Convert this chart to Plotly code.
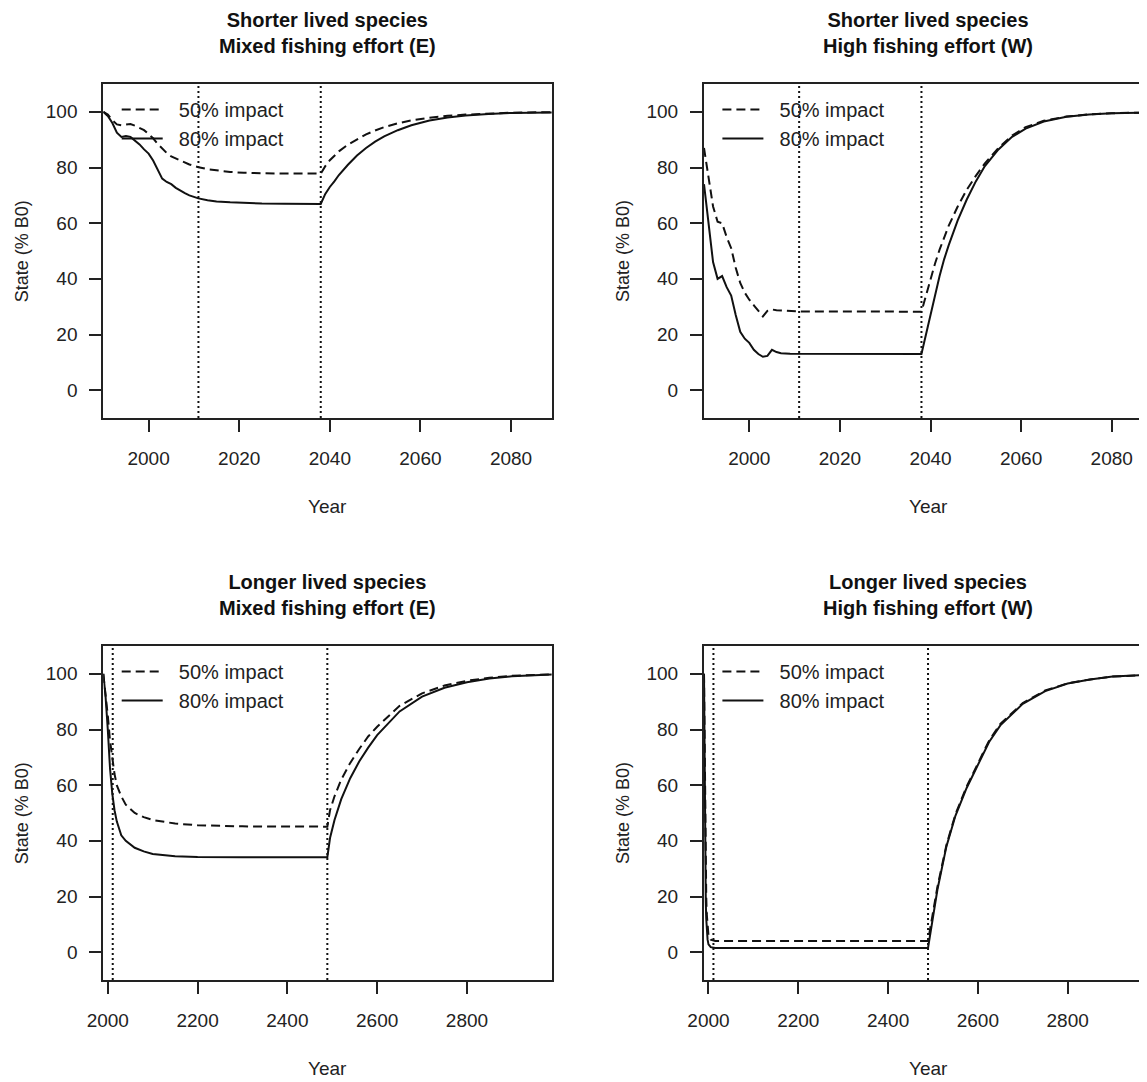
import plotly.graph_objects as go

# The page body adds an 8 px margin, so the figure is drawn 8 px smaller on each side
# and all reference positions are shifted by that margin.
OFF = 8
W, H = 1147 - OFF, 1082 - OFF

# ---------------- data ----------------
# Top-left: Shorter lived species, Mixed fishing effort (E)
tl50_year = [1990, 1991, 1992, 1993, 1994, 1995, 1996, 1997, 1998, 1999, 2000, 2001, 2002, 2003, 2004,
             2005, 2006, 2007, 2008, 2009, 2010, 2011, 2013, 2015, 2018, 2021, 2025, 2030, 2038,
             2039, 2040, 2041, 2042, 2044, 2046, 2048, 2050, 2052, 2055, 2058, 2062, 2066, 2070,
             2075, 2080, 2089]
tl50_val = [100, 99, 97, 95.5, 95.2, 95.5, 95.6, 95, 94.2, 93.4, 92, 90.5, 88.5, 86.8, 85.2,
            84, 83.2, 82.4, 81.7, 81.1, 80.6, 80.1, 79.4, 78.9, 78.4, 78.1, 77.9, 77.8, 77.8,
            80.5, 82.6, 84.3, 85.8, 88.2, 90.2, 91.9, 93.3, 94.5, 95.9, 96.9, 97.9, 98.6, 99,
            99.4, 99.7, 99.9]
tl80_year = [1990, 1991, 1992, 1993, 1994, 1995, 1996, 1997, 1998, 1999, 2000, 2001, 2002, 2003, 2004,
             2005, 2006, 2007, 2008, 2009, 2010, 2011, 2013, 2015, 2018, 2021, 2025, 2030, 2038,
             2039, 2040, 2041, 2042, 2044, 2046, 2048, 2050, 2052, 2055, 2058, 2062, 2066, 2070,
             2075, 2080, 2089]
tl80_val = [100, 98.5, 96, 92.5, 91, 91.3, 91, 89.8, 88.3, 86.5, 85, 82.5, 79, 76, 74.8,
            74, 72.7, 71.6, 70.8, 70, 69.4, 68.9, 68.2, 67.8, 67.5, 67.3, 67.1, 67, 66.9,
            70.5, 73, 75, 77.3, 81, 84.3, 87, 89.3, 91.2, 93.4, 95.2, 96.9, 98, 98.7,
            99.2, 99.6, 99.8]

# Top-right: Shorter lived species, High fishing effort (W)
tr50_year = [1990, 1991, 1992, 1993, 1994, 1995, 1996, 1997, 1998, 1999, 2000, 2001, 2002, 2003, 2004,
             2005, 2006, 2008, 2011, 2038, 2039, 2040, 2041, 2042, 2043, 2044, 2046, 2048, 2050,
             2052, 2055, 2058, 2061, 2065, 2070, 2075, 2080, 2089]
tr50_val = [87, 77, 66, 60.5, 60, 55, 51, 44, 38.5, 35, 32.5, 30.5, 28.5, 26.5, 28.5,
            29, 28.7, 28.5, 28.3, 28.2, 34, 40, 45.5, 50.5, 55, 59, 66, 72, 77,
            81.5, 87, 91.5, 94.5, 96.8, 98.3, 99.1, 99.5, 99.8]
tr80_year = [1990, 1991, 1992, 1993, 1994, 1995, 1996, 1997, 1998, 1999, 2000, 2001, 2002, 2003, 2004,
             2005, 2006, 2007, 2009, 2038, 2039, 2040, 2041, 2042, 2043, 2044, 2046, 2048, 2050,
             2052, 2055, 2058, 2061, 2065, 2070, 2075, 2080, 2089]
tr80_val = [74, 60, 46, 40, 41, 37, 34, 27, 21, 18.5, 17, 14.5, 13, 12, 12.3,
            14.5, 13.7, 13.3, 13.1, 13, 20, 28, 35, 41, 47, 52, 61, 68.5, 75,
            80.5, 86.5, 91, 94, 96.5, 98.2, 99, 99.5, 99.8]

# Bottom-left: Longer lived species, Mixed fishing effort (E)
bl50_year = [1990, 1995, 2000, 2005, 2010, 2015, 2020, 2030, 2040, 2060, 2080, 2100, 2150, 2200, 2300,
             2489, 2495, 2505, 2520, 2540, 2560, 2580, 2600, 2650, 2700, 2750, 2800, 2850, 2900, 2989]
bl50_val = [100, 93, 85, 76, 69, 64, 60, 56, 53, 50, 48.5, 47.5, 46.2, 45.6, 45.2,
            45.1, 51, 56, 62, 68, 73, 77.5, 81, 88.5, 93, 95.8, 97.5, 98.6, 99.3, 99.8]
bl80_year = [1990, 1995, 2000, 2005, 2010, 2015, 2020, 2030, 2040, 2060, 2080, 2100, 2150, 2200, 2300,
             2489, 2495, 2505, 2520, 2540, 2560, 2580, 2600, 2650, 2700, 2750, 2800, 2850, 2900, 2989]
bl80_val = [100, 92, 80, 66, 57, 51, 47, 42, 40, 37.5, 36.2, 35.3, 34.5, 34.2, 34.1,
            34.1, 41, 47.5, 55, 62.5, 68.5, 73.5, 78, 86.5, 91.8, 95, 97, 98.3, 99.1, 99.8]

# Bottom-right: Longer lived species, High fishing effort (W)
br50_year = [1990, 1991, 1992, 1993, 1994, 1995, 1996, 1998, 2000, 2005, 2015, 2489, 2500, 2510, 2530,
             2550, 2575, 2600, 2625, 2650, 2700, 2750, 2800, 2850, 2900, 2989]
br50_val = [100, 78, 56, 40, 28, 20, 14, 8, 6, 4.5, 4, 4, 14, 23.5, 38.5,
            49.5, 59.5, 68, 76, 82, 89.5, 94, 96.6, 98, 99, 99.7]
br80_year = [1990, 1991, 1992, 1993, 1994, 1995, 1996, 1998, 2000, 2005, 2015, 2489, 2500, 2510, 2530,
             2550, 2575, 2600, 2625, 2650, 2700, 2750, 2800, 2850, 2900, 2989]
br80_val = [100, 70, 45, 28, 18, 12, 8, 4.5, 2.8, 1.8, 1.5, 1.5, 12.5, 22.5, 38,
            49, 59, 67.5, 75.5, 81.5, 89.2, 93.8, 96.5, 98, 99, 99.7]

vlines_short = [2011, 2038]
vlines_long = [2011, 2489]

titles = ["Shorter lived species<br>Mixed fishing effort (E)",
          "Shorter lived species<br>High fishing effort (W)",
          "Longer lived species<br>Mixed fishing effort (E)",
          "Longer lived species<br>High fishing effort (W)"]
series_names = ["50% impact", "80% impact"]
xticks_short = [2000, 2020, 2040, 2060, 2080]
xticks_long = [2000, 2200, 2400, 2600, 2800]
yticks = [0, 20, 40, 60, 80, 100]

# ---------------- layout geometry (reference pixels, shifted by OFF) ----------------
FONT = "Liberation Sans, Arial, Helvetica, sans-serif"
BOXW = 448.5
left_box = (103.3 - OFF, 103.3 - OFF + BOXW)
right_box = (704.0 - OFF, float(W))        # right column is cut by the image edge
top_box = (84.0 - OFF, 418.0 - OFF)
bot_box = (646.0 - OFF, 980.0 - OFF)
px_per_year_short = BOXW / 99.0
px_per_year_long = BOXW / 999.0

def xd(a, b):
    return [a / W, min(b / W, 1.0)]

def yd(a, b):
    return [1 - b / H, 1 - a / H]

fig = go.Figure()

panels = [
    dict(ax="", box_x=left_box, box_y=top_box, rng=[1990, 2089], ticks=xticks_short,
         data=[(tl50_year, tl50_val), (tl80_year, tl80_val)], vl=vlines_short, right=False),
    dict(ax="2", box_x=right_box, box_y=top_box,
         rng=[1990, 1990 + (right_box[1] - right_box[0]) / px_per_year_short], ticks=xticks_short,
         data=[(tr50_year, tr50_val), (tr80_year, tr80_val)], vl=vlines_short, right=True),
    dict(ax="3", box_x=left_box, box_y=bot_box, rng=[1990, 2989], ticks=xticks_long,
         data=[(bl50_year, bl50_val), (bl80_year, bl80_val)], vl=vlines_long, right=False),
    dict(ax="4", box_x=right_box, box_y=bot_box,
         rng=[1990, 1990 + (right_box[1] - right_box[0]) / px_per_year_long], ticks=xticks_long,
         data=[(br50_year, br50_val), (br80_year, br80_val)], vl=vlines_long, right=True),
]

dashes = ["9px,5px", "solid"]
annotations = []
shapes = []
layout_axes = {}
NB = "\u00a0\u00a0"
for i, p in enumerate(panels):
    ax = p["ax"]
    xname = "x" + ax
    yname = "y" + ax
    legname = "legend" + ("" if i == 0 else str(i + 1))
    for k, (xs, ys) in enumerate(p["data"]):
        fig.add_trace(go.Scatter(
            x=xs, y=ys, mode="lines", name=NB + series_names[k],
            line=dict(color="#111111", width=2, dash=dashes[k]),
            xaxis=xname, yaxis=yname, legend=legname, showlegend=True,
            hoverinfo="skip"))
    for v in p["vl"]:
        shapes.append(dict(type="line", xref=xname, yref=yname + " domain",
                           x0=v, x1=v, y0=0, y1=1,
                           line=dict(color="#111111", width=2, dash="2px,3px")))
    common = dict(showgrid=False, zeroline=False, showline=True, linecolor="#222222",
                  linewidth=2, ticks="outside", ticklen=12, tickwidth=2, tickcolor="#222222",
                  automargin=False,
                  tickfont=dict(family=FONT, size=19, color="#222222"))
    layout_axes["xaxis" + ax] = dict(common, domain=xd(*p["box_x"]), anchor=yname,
                                     range=p["rng"], tickvals=p["ticks"], mirror=True,
                                     ticklabelstandoff=10)
    layout_axes["yaxis" + ax] = dict(common, domain=yd(*p["box_y"]), anchor=xname,
                                     range=[-10, 110], tickvals=yticks,
                                     mirror=(not p["right"]), ticklabelstandoff=8)
    cx = p["box_x"][0] + BOXW / 2
    # panel title
    annotations.append(dict(text="<b>" + titles[i] + "</b>", x=cx / W, xref="paper",
                            y=1 - (p["box_y"][0] - 51) / H, yref="paper",
                            showarrow=False, xanchor="center", yanchor="middle",
                            font=dict(family=FONT, size=20, color="#111111")))
    annotations.append(dict(text="Year", x=cx / W, xref="paper",
                            y=1 - (p["box_y"][1] + 88) / H, yref="paper",
                            showarrow=False, xanchor="center", yanchor="middle",
                            font=dict(family=FONT, size=19, color="#222222")))
    annotations.append(dict(text="State (% B0)", x=(p["box_x"][0] - 81) / W, xref="paper",
                            y=1 - ((p["box_y"][0] + p["box_y"][1]) / 2) / H, yref="paper",
                            textangle=-90, showarrow=False, xanchor="center", yanchor="middle",
                            font=dict(family=FONT, size=18, color="#222222")))
    layout_axes[legname] = dict(x=(p["box_x"][0] + 13.4) / W, y=1 - (p["box_y"][0] + 6) / H,
                                xanchor="left", yanchor="top", bgcolor="rgba(0,0,0,0)",
                                font=dict(family=FONT, size=20, color="#222222"),
                                itemwidth=41, tracegroupgap=0)

fig.update_layout(
    width=W, height=H, margin=dict(l=0, r=0, t=0, b=0, autoexpand=False),
    paper_bgcolor="white", plot_bgcolor="white",
    annotations=annotations, shapes=shapes, **layout_axes)

fig.write_html("out.html")
